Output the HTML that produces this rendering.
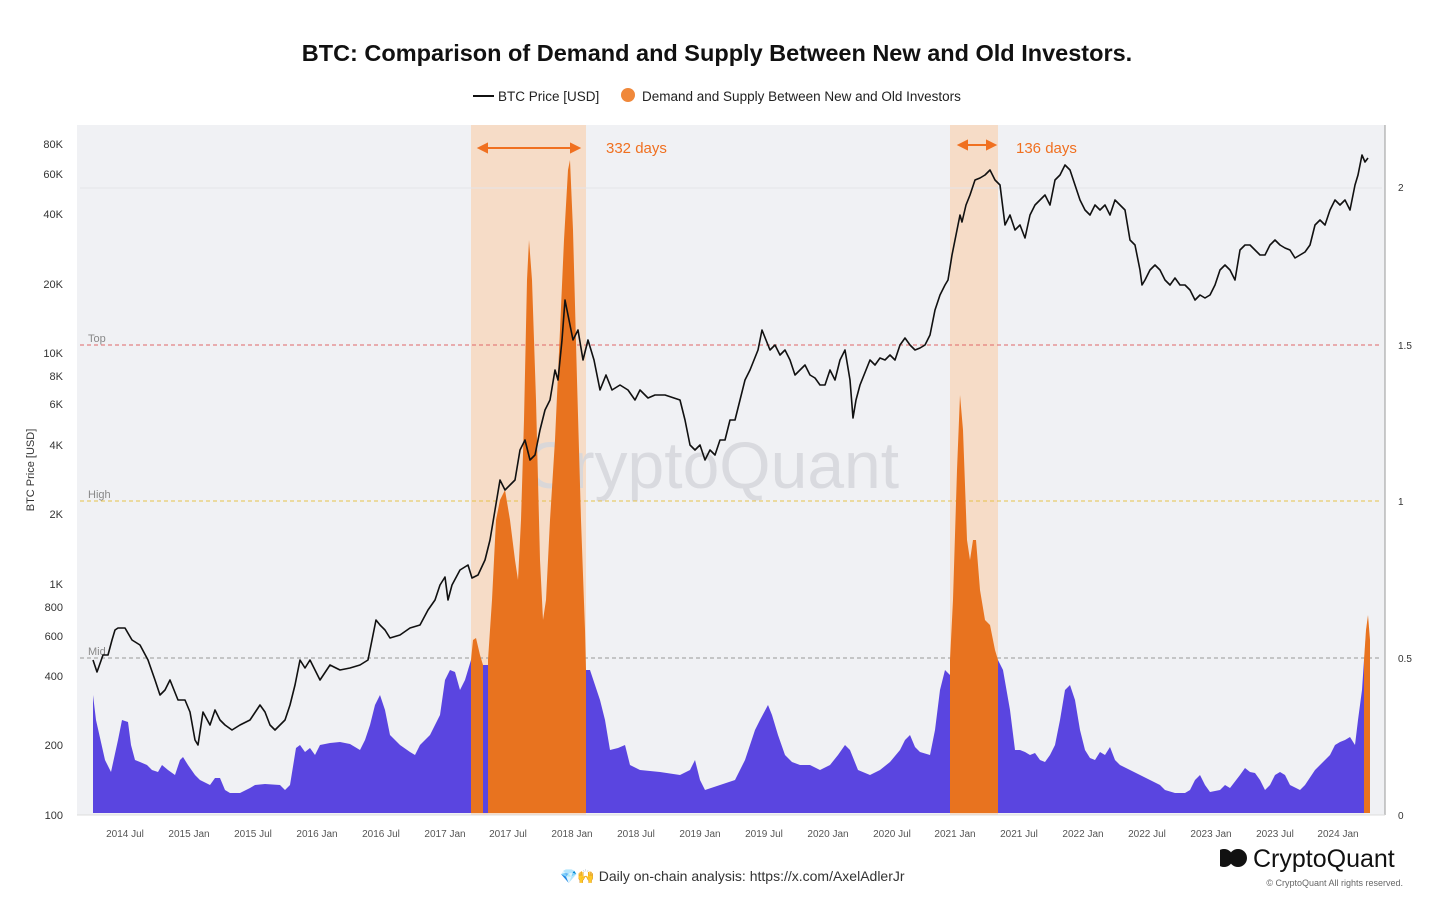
<!DOCTYPE html>
<html><head><meta charset="utf-8"><style>
body{margin:0;background:#fff;font-family:"Liberation Sans",sans-serif}
</style></head><body>
<svg width="1431" height="902" xmlns="http://www.w3.org/2000/svg" font-family="Liberation Sans, sans-serif">
<rect width="1431" height="902" fill="#fff"/>
<text x="717" y="61" text-anchor="middle" font-size="23.5" font-weight="bold" fill="#111">BTC: Comparison of Demand and Supply Between New and Old Investors.</text>
<line x1="473" y1="96" x2="494" y2="96" stroke="#111" stroke-width="2"/>
<text x="498" y="101" font-size="13.5" fill="#222">BTC Price [USD]</text>
<circle cx="628" cy="95" r="7" fill="#f0883a"/>
<text x="642" y="101" font-size="13.5" fill="#222">Demand and Supply Between New and Old Investors</text>
<rect x="77" y="125" width="1308" height="690" fill="#f0f1f4"/>
<rect x="471" y="125" width="115" height="690" fill="#f6dcc7"/>
<rect x="950" y="125" width="48" height="690" fill="#f6dcc7"/>
<text x="712" y="488" text-anchor="middle" font-size="66" fill="#d6d7dc" opacity="0.85">CryptoQuant</text>
<line x1="80" y1="345" x2="1382" y2="345" stroke="#e06868" stroke-dasharray="4,3"/>
<line x1="80" y1="501" x2="1382" y2="501" stroke="#e6c24a" stroke-dasharray="4,3"/>
<line x1="80" y1="658" x2="1382" y2="658" stroke="#999" stroke-dasharray="4,3"/>
<line x1="80" y1="188" x2="1382" y2="188" stroke="#e4e5e8"/>
<text x="88" y="342" font-size="11" fill="#888">Top</text>
<text x="88" y="498" font-size="11" fill="#888">High</text>
<text x="88" y="655" font-size="11" fill="#888">Mid</text>
<polygon fill="#5a45e0" points="93,813 93,695 96,720 105,760 111,772 118,740 122,720 128,722 131,745 135,760 140,762 147,765 152,770 158,772 162,765 168,770 175,775 180,760 183,757 188,765 195,775 200,780 210,785 215,778 220,778 225,790 230,793 240,793 250,788 255,785 265,784 280,785 285,790 290,785 296,748 300,745 305,752 310,748 315,755 320,745 330,743 340,742 350,744 360,750 365,740 370,725 375,705 380,695 385,710 390,735 400,745 410,752 415,755 420,745 430,735 440,715 445,680 450,670 455,672 460,690 465,680 471,660 483,665 488,665 586,670 590,670 595,685 600,700 605,720 610,750 618,748 625,745 630,765 640,770 660,772 680,775 690,770 695,760 700,780 705,790 720,785 735,780 740,770 745,760 755,730 760,720 768,705 772,715 778,735 785,755 792,762 800,765 810,765 820,770 830,765 838,755 845,745 850,750 858,770 870,775 880,770 890,762 900,750 905,740 910,735 915,747 920,752 930,755 935,730 940,690 945,670 950,675 998,660 1003,670 1010,710 1015,750 1020,750 1025,752 1030,755 1035,753 1040,760 1045,762 1050,755 1055,745 1060,720 1065,690 1070,685 1075,700 1080,730 1085,750 1090,758 1095,760 1100,752 1105,755 1110,747 1115,760 1120,765 1130,770 1140,775 1150,780 1160,785 1165,790 1175,793 1185,793 1190,790 1195,780 1200,775 1205,785 1210,792 1220,790 1225,785 1230,788 1240,775 1245,768 1250,772 1255,773 1260,780 1265,790 1270,785 1275,775 1280,772 1285,775 1290,785 1300,790 1305,785 1315,770 1320,765 1325,760 1330,755 1335,745 1340,742 1345,740 1350,737 1355,745 1358,720 1362,690 1364,660 1364,813"/>
<polygon fill="#e8731f" points="471,813 471,660 473,640 476,638 480,655 483,665 483,813"/>
<polygon fill="#e8731f" points="488,813 488,660 492,600 496,520 500,500 505,490 510,520 515,560 518,580 521,520 524,420 527,280 529,240 532,280 536,400 540,560 543,620 546,600 550,520 555,440 560,330 564,240 568,170 570,160 573,230 577,380 581,520 585,630 586,670 586,813"/>
<polygon fill="#e8731f" points="950,813 950,660 953,600 957,470 960,395 963,430 967,540 970,560 973,540 976,540 980,590 985,620 990,625 995,650 998,660 998,813"/>
<polygon fill="#e8731f" points="1364,813 1364,660 1366,630 1368,615 1370,640 1370,813"/>
<polyline fill="none" stroke="#111" stroke-width="1.6" stroke-linejoin="round" points="93,660 97,672 103,655 108,655 112,640 115,630 118,628 125,628 132,640 140,645 148,660 155,680 160,695 165,690 170,680 178,700 185,700 190,712 195,740 198,745 203,712 210,725 215,710 220,720 225,725 232,730 240,725 250,720 260,705 265,712 270,725 275,730 285,720 290,705 295,685 300,660 305,668 310,660 320,680 330,665 340,670 350,668 360,665 368,660 372,640 376,620 380,625 385,630 390,638 400,635 410,628 420,625 428,610 435,600 440,585 445,577 448,600 452,585 460,570 468,565 472,578 478,575 485,560 490,540 495,510 500,480 505,490 510,485 515,480 520,450 525,440 530,460 535,455 540,430 545,410 550,400 555,370 558,380 562,340 565,300 568,315 573,340 578,330 583,360 588,340 594,360 600,390 606,375 612,390 620,385 628,390 635,400 640,390 648,398 655,395 665,395 680,400 685,420 690,445 695,450 700,445 705,460 710,450 715,455 720,440 725,440 730,420 735,420 740,400 745,380 750,370 758,350 762,330 766,340 770,350 775,345 780,355 785,350 790,360 795,375 800,370 805,365 810,375 815,378 820,385 825,385 830,370 835,380 840,360 845,350 850,380 853,418 856,400 860,385 866,370 870,360 875,365 880,358 885,360 890,355 895,360 900,345 905,338 910,345 915,350 920,348 925,345 930,335 935,310 940,295 945,285 948,280 952,255 956,235 960,215 962,222 966,205 970,195 975,180 980,178 985,175 990,170 995,180 1000,185 1005,225 1010,215 1015,230 1020,225 1025,238 1030,215 1035,205 1040,200 1045,195 1050,205 1055,180 1060,175 1065,165 1070,170 1075,185 1080,200 1085,210 1090,215 1095,205 1100,210 1105,205 1110,215 1115,200 1120,205 1125,210 1130,240 1135,245 1140,270 1142,285 1145,280 1150,270 1155,265 1160,270 1165,280 1170,285 1175,278 1180,285 1185,285 1190,290 1195,300 1200,295 1205,298 1210,295 1215,285 1220,270 1225,265 1230,270 1235,280 1240,250 1245,245 1250,245 1255,250 1260,255 1265,255 1270,245 1275,240 1280,245 1285,248 1290,250 1295,258 1300,255 1305,252 1310,245 1315,225 1320,220 1325,225 1330,210 1335,200 1340,205 1345,200 1350,210 1355,185 1358,175 1362,155 1365,162 1368,158"/>
<g stroke="#f07020" stroke-width="2" fill="#f07020">
<line x1="484" y1="148" x2="574" y2="148"/><polygon points="479,148 487,144 487,152"/><polygon points="579,148 571,144 571,152"/>
<line x1="964" y1="145" x2="990" y2="145"/><polygon points="959,145 967,141 967,149"/><polygon points="995,145 987,141 987,149"/>
</g>
<text x="606" y="153" font-size="15" fill="#f07020">332 days</text>
<text x="1016" y="153" font-size="15" fill="#f07020">136 days</text>
<line x1="1385" y1="125" x2="1385" y2="815" stroke="#999"/>
<line x1="77" y1="815" x2="1385" y2="815" stroke="#ddd"/>
<g font-size="11" fill="#333" text-anchor="end">
<text x="63" y="148">80K</text><text x="63" y="178">60K</text><text x="63" y="218">40K</text><text x="63" y="288">20K</text>
<text x="63" y="357">10K</text><text x="63" y="380">8K</text><text x="63" y="408">6K</text><text x="63" y="449">4K</text>
<text x="63" y="518">2K</text><text x="63" y="588">1K</text><text x="63" y="611">800</text><text x="63" y="640">600</text>
<text x="63" y="680">400</text><text x="63" y="749">200</text><text x="63" y="819">100</text>
</g>
<text transform="translate(34,470) rotate(-90)" text-anchor="middle" font-size="11" fill="#333">BTC Price [USD]</text>
<g font-size="10" fill="#333">
<text x="1398" y="191">2</text><text x="1398" y="349">1.5</text><text x="1398" y="505">1</text><text x="1398" y="662">0.5</text><text x="1398" y="819">0</text>
</g>
<g font-size="10" fill="#555" text-anchor="middle">
<text x="125" y="837">2014 Jul</text><text x="189" y="837">2015 Jan</text><text x="253" y="837">2015 Jul</text><text x="317" y="837">2016 Jan</text><text x="381" y="837">2016 Jul</text><text x="445" y="837">2017 Jan</text><text x="508" y="837">2017 Jul</text><text x="572" y="837">2018 Jan</text><text x="636" y="837">2018 Jul</text><text x="700" y="837">2019 Jan</text><text x="764" y="837">2019 Jul</text><text x="828" y="837">2020 Jan</text><text x="892" y="837">2020 Jul</text><text x="955" y="837">2021 Jan</text><text x="1019" y="837">2021 Jul</text><text x="1083" y="837">2022 Jan</text><text x="1147" y="837">2022 Jul</text><text x="1211" y="837">2023 Jan</text><text x="1275" y="837">2023 Jul</text><text x="1338" y="837">2024 Jan</text>
</g>
<text x="560" y="881" font-size="14" fill="#333">💎🙌 Daily on-chain analysis: https://x.com/AxelAdlerJr</text>
<circle cx="1224" cy="858" r="9" fill="#111"/><circle cx="1238" cy="858" r="9" fill="#111"/><rect x="1212" y="849" width="8" height="18" fill="#fff"/>
<text x="1253" y="867" font-size="25" fill="#111">CryptoQuant</text>
<text x="1403" y="886" text-anchor="end" font-size="9" fill="#666">© CryptoQuant All rights reserved.</text>
</svg>
</body></html>
